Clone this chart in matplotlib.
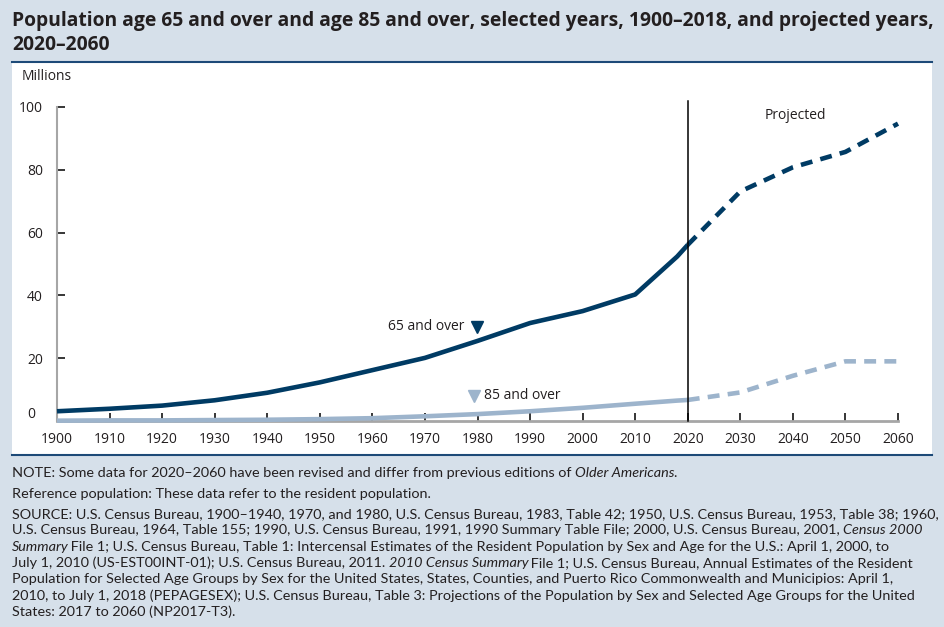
import matplotlib
matplotlib.use("Agg")
import matplotlib.pyplot as plt
from matplotlib import font_manager as fm
from matplotlib.lines import Line2D
from matplotlib.patches import Rectangle
from matplotlib.transforms import offset_copy

# ---------------- data ----------------
years_hist = [1900, 1910, 1920, 1930, 1940, 1950, 1960, 1970, 1980, 1990, 2000, 2010, 2018, 2020]
age65_hist = [3.1, 3.9, 4.9, 6.6, 9.0, 12.3, 16.2, 20.1, 25.5, 31.2, 35.0, 40.3, 52.4, 56.1]
age85_hist = [0.1, 0.2, 0.2, 0.3, 0.4, 0.6, 0.9, 1.5, 2.2, 3.1, 4.2, 5.5, 6.5, 6.7]
years_proj = [2020, 2030, 2040, 2050, 2060]
age65_proj = [56.1, 73.1, 80.8, 85.7, 94.7]
age85_proj = [6.7, 9.1, 14.4, 19.0, 19.0]
x_ticks = list(range(1900, 2061, 10))
y_ticks = [0, 20, 40, 60, 80, 100]

title_lines = ["Population age 65 and over and age 85 and over, selected years, 1900\u20132018, and projected years,",
               "2020\u20132060"]

available = {f.name for f in fm.fontManager.ttflist}
def pick(*names):
    for n in names:
        if n in available:
            return n
    return "DejaVu Sans"

body_font = pick("Open Sans", "Noto Sans", "DejaVu Sans")
title_font = pick("Open Sans", "Noto Sans", "DejaVu Sans")
note_font = pick("Lato", "Open Sans", "DejaVu Sans")

navy = "#003b64"
light = "#9db4cc"
bg = "#d6e0ea"
rule = "#1d4a78"
txt = "#231f20"

W, H = 945, 627
fig = plt.figure(figsize=(W / 100, H / 100), dpi=100)
fig.patch.set_facecolor(bg)
renderer = fig.canvas.get_renderer()

def fx(px):
    return px / W
def fy(py):
    return 1 - py / H

# white panel
fig.patches.append(Rectangle((fx(12), fy(455)), fx(932) - fx(12), fy(62) - fy(455),
                             transform=fig.transFigure, facecolor="white", edgecolor="none", zorder=-5))
fig.lines.append(Line2D([fx(12), fx(932)], [fy(62), fy(62)], transform=fig.transFigure, color=rule, lw=1.5, zorder=-4))
fig.lines.append(Line2D([fx(12), fx(932)], [fy(455), fy(455)], transform=fig.transFigure, color=rule, lw=1.5, zorder=-4))

def fitted_text(x_px, y_px, s, target_px, base=10, **kw):
    t = fig.text(fx(x_px), fy(y_px), s, fontsize=base, **kw)
    w = t.get_window_extent(renderer=renderer).width
    t.set_fontsize(base * target_px / w)
    return t

# title
tt = fitted_text(12, 21, title_lines[0], 913, base=13, ha="left", va="center",
                 fontweight="bold", color=txt, family=title_font)
fig.text(fx(12), fy(45), title_lines[1], ha="left", va="center", fontsize=tt.get_fontsize(),
         fontweight="bold", color=txt, family=title_font)

# axes
ax = fig.add_axes([fx(57), fy(421), fx(898) - fx(57), fy(107) - fy(421)])
ax.set_zorder(2)
ax.set_facecolor("none")
ax.set_xlim(1900, 2060)
ax.set_ylim(0, 100)
for s in ["top", "right"]:
    ax.spines[s].set_visible(False)
ax.spines["left"].set_color("#a6a6a6")
ax.spines["bottom"].set_color("#a6a6a6")
ax.spines["left"].set_linewidth(1.5)
ax.spines["bottom"].set_linewidth(2)
ax.set_xticks(x_ticks)
ax.set_yticks(y_ticks)
ax.set_yticklabels(["" if v == 0 else str(v) for v in y_ticks])
ax.tick_params(axis="both", direction="in", length=6, width=1.1, color="black",
               labelsize=10, labelcolor=txt)
ax.tick_params(axis="x", pad=8)
ax.tick_params(axis="y", pad=10)
for lab in ax.get_xticklabels() + ax.get_yticklabels():
    lab.set_family(body_font)
# the "0" label sits a little above the axis in the reference
zero_tr = offset_copy(ax.get_yaxis_transform(), fig=fig, x=-16, y=5, units="points")
ax.text(0, y_ticks[0], "0", transform=zero_tr, ha="right", va="center", fontsize=10,
        color=txt, family=body_font)

ax.plot(years_hist, age85_hist, color=light, lw=3.3, solid_capstyle="butt", clip_on=False, zorder=3)
ax.plot(years_proj, age85_proj, color=light, lw=3.3, dashes=(2.6, 1.8), clip_on=False, zorder=3)
ax.plot(years_hist, age65_hist, color=navy, lw=3.3, solid_capstyle="butt", clip_on=False, zorder=4)
ax.plot(years_proj, age65_proj, color=navy, lw=3.3, dashes=(2.6, 1.8), clip_on=False, zorder=4)

ax.plot([2020, 2020], [0, 102], color="black", lw=1.1, clip_on=False, zorder=5)

ax.text(1977.5, 30, "65 and over", ha="right", va="center", fontsize=10, color=txt, family=body_font)
ax.plot([1979.9], [30], marker="v", color=navy, markersize=8, clip_on=False)
ax.plot([1979.4], [8.1], marker="v", color=light, markersize=8, clip_on=False)
ax.text(1981.2, 8.1, "85 and over", ha="left", va="center", fontsize=10, color=txt, family=body_font)
ax.text(2040.5, 97.4, "Projected", ha="center", va="center", fontsize=10, color=txt, family=body_font)

fig.text(fx(22), fy(76), "Millions", ha="left", va="center", fontsize=10, color=txt, family=body_font)

# notes
source_lines = [
    [("SOURCE: U.S. Census Bureau, 1900\u20131940, 1970, and 1980, U.S. Census Bureau, 1983, Table 42; 1950, U.S. Census Bureau, 1953, Table 38; 1960,", False)],
    [("U.S. Census Bureau, 1964, Table 155; 1990, U.S. Census Bureau, 1991, 1990 Summary Table File; 2000, U.S. Census Bureau, 2001, ", False), ("Census 2000", True)],
    [("Summary", True), (" File 1; U.S. Census Bureau, Table 1: Intercensal Estimates of the Resident Population by Sex and Age for the U.S.: April 1, 2000, to", False)],
    [("July 1, 2010 (US-EST00INT-01); U.S. Census Bureau, 2011. ", False), ("2010 Census Summary", True), (" File 1; U.S. Census Bureau, Annual Estimates of the Resident", False)],
    [("Population for Selected Age Groups by Sex for the United States, States, Counties, and Puerto Rico Commonwealth and Municipios: April 1,", False)],
    [("2010, to July 1, 2018 (PEPAGESEX); U.S. Census Bureau, Table 3: Projections of the Population by Sex and Selected Age Groups for the United", False)],
    [("States: 2017 to 2060 (NP2017-T3).", False)],
]

probe = fitted_text(12, 514, source_lines[0][0][0], 923, base=10, ha="left", va="center",
                    color=txt, family=note_font)
nsize = probe.get_fontsize()
probe.remove()
nf = dict(ha="left", va="center", fontsize=nsize, color=txt, family=note_font)

def seg_line(segs, y_px):
    x = 12
    for s, it in segs:
        t = fig.text(x / W, fy(y_px), s, style="italic" if it else "normal", **nf)
        x = t.get_window_extent(renderer=renderer).x1 - (1.5 if it else 0)

seg_line([("NOTE: Some data for 2020\u20132060 have been revised and differ from previous editions of ", False),
          ("Older Americans", True), (".", False)], 473)
seg_line([("Reference population: These data refer to the resident population.", False)], 494)

y0 = 514
dy = 16.3
for i, segs in enumerate(source_lines):
    seg_line(segs, y0 + i * dy)

fig.savefig("out.png", dpi=100, facecolor=bg)
